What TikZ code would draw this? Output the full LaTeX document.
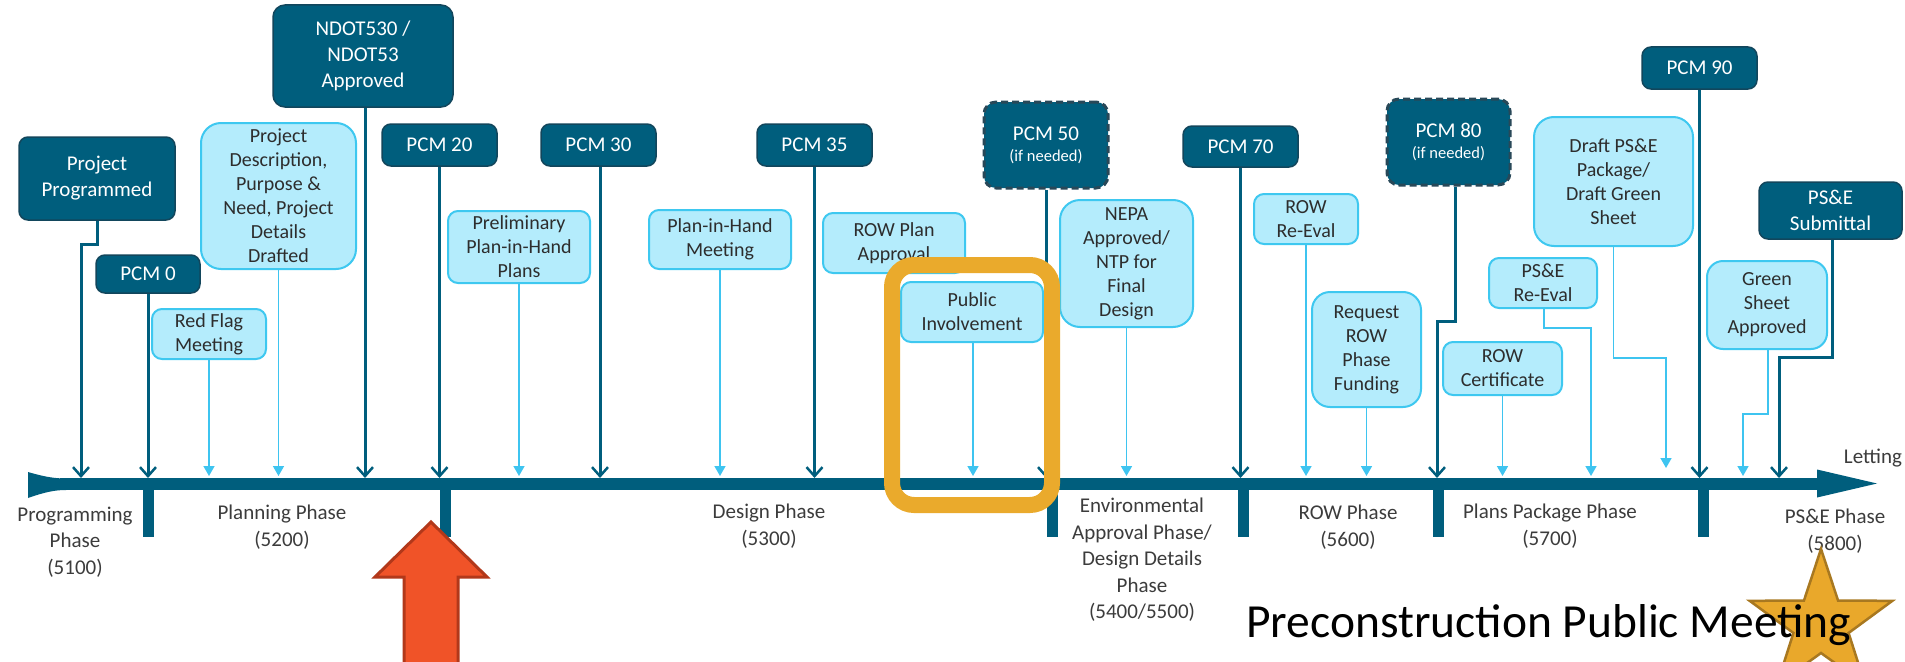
\documentclass[tikz,border=0pt]{standalone}
\usepackage{fontspec}
\setmainfont{Carlito}
\usetikzlibrary{arrows.meta,shapes.geometric}
\definecolor{tealF}{RGB}{0,94,125}
\definecolor{tealE}{RGB}{18,70,92}
\definecolor{dashE}{RGB}{40,72,88}
\definecolor{lightF}{RGB}{180,236,252}
\definecolor{lightE}{RGB}{62,200,240}
\definecolor{lightL}{RGB}{62,196,240}
\definecolor{txtG}{RGB}{45,45,45}
\definecolor{phaseG}{RGB}{60,60,60}
\definecolor{orangeF}{RGB}{234,170,44}
\definecolor{redF}{RGB}{240,83,40}
\definecolor{redE}{RGB}{178,56,26}
\definecolor{starF}{RGB}{233,168,43}
\definecolor{starE}{RGB}{168,120,32}
\begin{document}
\begin{tikzpicture}[x=1pt,y=-1pt,
  dbox/.style={draw=tealE, line width=1.5pt, fill=tealF, rounded corners=9pt, text=white,
    font=\fontsize{21}{26}\selectfont, align=center, inner sep=0pt},
  dashbox/.style={dbox, draw=dashE, line width=3pt, dash pattern=on 7pt off 4pt, rounded corners=12pt},
  lbox/.style={draw=lightE, line width=2pt, fill=lightF, rounded corners=10pt, text=txtG,
    font=\fontsize{20}{24}\selectfont, align=center, inner sep=0pt},
  dline/.style={draw=tealF, line width=3pt, -{Straight Barb[length=9pt,width=16pt,line width=2.5pt]}},
  lline/.style={draw=lightL, line width=1.5pt, -{Triangle[length=10pt,width=11pt]}},
  phase/.style={text=phaseG, font=\fontsize{21}{26.5}\selectfont, align=center, inner sep=0pt},
  tick/.style={fill=tealF},
  needed/.style={font=\fontsize{16.5}{19}\selectfont},
]
\useasboundingbox (0,0) rectangle (1905,661);
\clip (0,0) rectangle (1905,661);
\fill[white] (0,0) rectangle (1905,661);

% timeline
\coordinate (barL) at (60,484);
\coordinate (barR) at (1820,484);
\coordinate (bartop) at (0,478);
\coordinate (lbartop) at (0,476);
\draw[tealF, line width=12pt] (barL) -- (barR);
\fill[tealF] (28,472) .. controls (45,477) and (55,478.5) .. (66,478.5) -- (66,490)
  .. controls (55,490) and (45,492) .. (28,498) -- cycle;
\fill[tealF] (1817,469.5) -- (1877,483.5) -- (1817,497.5) -- cycle;
\foreach \x in {148,445,1052,1243,1438,1703}{
  \fill[tick] (\x-5.5,484) rectangle (\x+5.5,537);
}

% dark boxes
\node[dbox, minimum width=156pt, minimum height=83pt] (prog) at (97,178.5) {Project\\Programmed};
\node[dbox, minimum width=180pt, minimum height=102pt, rounded corners=12pt] (ndot) at (363,56) {NDOT530 /\\NDOT53\\Approved};
\node[dbox, minimum width=104pt, minimum height=38pt] (pcm0) at (148,274) {PCM 0};
\node[dbox, minimum width=115pt, minimum height=42pt] (pcm20) at (439.5,145) {PCM 20};
\node[dbox, minimum width=115pt, minimum height=42pt] (pcm30) at (598.5,145) {PCM 30};
\node[dbox, minimum width=115pt, minimum height=42pt] (pcm35) at (814.5,145) {PCM 35};
\node[dashbox, minimum width=124pt, minimum height=86pt] (pcm50) at (1046,145) {PCM 50\\[-5pt]{\fontsize{16.5}{19}\selectfont (if needed)}};
\node[dbox, minimum width=115pt, minimum height=41pt] (pcm70) at (1240.5,146.5) {PCM 70};
\node[dashbox, minimum width=123pt, minimum height=86pt] (pcm80) at (1448.5,142) {PCM 80\\[-5pt]{\fontsize{16.5}{19}\selectfont (if needed)}};
\node[dbox, minimum width=115pt, minimum height=42pt] (pcm90) at (1699.5,68) {PCM 90};
\node[dbox, minimum width=143pt, minimum height=57pt] (pse) at (1830.5,210.5) {PS\&E\\Submittal};

% light boxes
\node[lbox, minimum width=155pt, minimum height=146pt, rounded corners=20pt] (desc) at (278.5,196) {Project\\Description,\\Purpose \&\\Need, Project\\Details\\Drafted};
\node[lbox, minimum width=114pt, minimum height=50pt] (red) at (209,334) {Red Flag\\Meeting};
\node[lbox, minimum width=142pt, minimum height=72pt] (prelim) at (519,247) {Preliminary\\Plan-in-Hand\\Plans};
\node[lbox, minimum width=142pt, minimum height=59pt] (pih) at (720,239.5) {Plan-in-Hand\\Meeting};
\node[lbox, minimum width=142pt, minimum height=60pt] (rowplan) at (894,243) {ROW Plan\\Approval};
\node[lbox, minimum width=142pt, minimum height=60pt] (pub) at (972,312) {Public\\Involvement};
\node[lbox, minimum width=133pt, minimum height=127pt, rounded corners=20pt] (nepa) at (1126.5,263.5) {NEPA\\Approved/\\NTP for\\Final\\Design};
\node[lbox, minimum width=104pt, minimum height=50pt] (rowre) at (1306,219) {ROW\\Re-Eval};
\node[lbox, minimum width=109pt, minimum height=115pt, rounded corners=18pt] (req) at (1366.5,349.5) {Request\\ROW\\Phase\\Funding};
\node[lbox, minimum width=159pt, minimum height=129pt, rounded corners=20pt] (draft) at (1613.5,181.5) {Draft PS\&E\\Package/\\Draft Green\\Sheet};
\node[lbox, minimum width=108pt, minimum height=50pt] (psre) at (1543,283) {PS\&E\\Re-Eval};
\node[lbox, minimum width=119pt, minimum height=53pt] (rowcert) at (1502.5,368.5) {ROW\\Certificate};
\node[lbox, minimum width=120pt, minimum height=88pt, rounded corners=16pt] (green) at (1767,305) {Green\\Sheet\\Approved};

% end coordinates on the bar
\coordinate (tprog) at (81,478);
\coordinate (t80) at (1437,478);
\coordinate (tpse) at (1779,478);
\coordinate (tpsre) at (1591,476);
\coordinate (tdraft) at (1666,468);
\coordinate (tgreen) at (1743,476);

% dark connectors
\draw[dline] (prog.south) -- ++(0,24) -| (tprog);
\draw[dline] (pcm0.south) -- (pcm0.south |- bartop);
\draw[dline] ([xshift=2pt]ndot.south) -- ([xshift=2pt]ndot.south |- bartop);
\draw[dline] (pcm20.south) -- (pcm20.south |- bartop);
\draw[dline] ([xshift=1.5pt]pcm30.south) -- ([xshift=1.5pt]pcm30.south |- bartop);
\draw[dline] (pcm35.south) -- (pcm35.south |- bartop);
\draw[dline] (pcm50.south) -- (pcm50.south |- bartop);
\draw[dline] (pcm70.south) -- (pcm70.south |- bartop);
\draw[dline] ([xshift=7pt]pcm80.south) -- ++(0,135) -| (t80);
\draw[dline] (pcm90.south) -- (pcm90.south |- bartop);
\draw[dline] ([xshift=1.5pt]pse.south) -- ++(0,118) -| (tpse);

% light connectors
\draw[lline] (red.south) -- (red.south |- lbartop);
\draw[lline] (desc.south) -- (desc.south |- lbartop);
\draw[lline] (prelim.south) -- (prelim.south |- lbartop);
\draw[lline] (pih.south) -- (pih.south |- lbartop);
\draw[lline] ([xshift=1pt]pub.south) -- ([xshift=1pt]pub.south |- lbartop);
\draw[lline] (nepa.south) -- (nepa.south |- lbartop);
\draw[lline] (rowre.south) -- (rowre.south |- lbartop);
\draw[lline] (req.south) -- (req.south |- lbartop);
\draw[lline] (rowcert.south) -- (rowcert.south |- lbartop);
\draw[lline] ([xshift=1pt]psre.south) -- ++(0,19) -| (tpsre);
\draw[lline] (draft.south) -- ++(0,111) -| (tdraft);
\draw[lline] ([xshift=1pt]green.south) -- ++(0,64) -| (tgreen);

% phase labels
\node[phase] (ph1) at (75,542) {Programming\\Phase\\(5100)};
\node[phase] (ph2) at (282,527) {Planning Phase\\(5200)};
\node[phase] (ph3) at (769,526) {Design Phase\\(5300)};
\node[phase] (ph4) at (1142,560) {Environmental\\Approval Phase/\\Design Details\\Phase\\(5400/5500)};
\node[phase] (ph5) at (1348,527) {ROW Phase\\(5600)};
\node[phase] (ph6) at (1550,526) {Plans Package Phase\\(5700)};
\node[phase] (ph7) at (1835,531) {PS\&E Phase\\(5800)};
\node[phase] (let) at (1873,458) {Letting};

% highlight frame
\draw[orangeF, line width=16pt, rounded corners=22pt] (892,265) rectangle (1052,505);

% red arrow
\draw[draw=redE, line width=3pt, fill=redF, line join=miter]
  (431,522) -- (487,577) -- (458,577) -- (458,670) -- (404,670) -- (404,577) -- (375,577) -- cycle;

% star
\draw[shift={(1821,624)}, fill=starF, draw=starE, line width=2.5pt, line join=miter]
  (270:75) -- (306:29) -- (342:75) -- (18:29) -- (54:75) -- (90:29) -- (126:75)
  -- (162:29) -- (198:75) -- (234:29) -- cycle;

% bottom text
\node[anchor=base west, inner sep=0pt, font=\fontsize{47.5}{56}\selectfont] (pre) at (1246,637) {Preconstruction Public Meeting};
\end{tikzpicture}
\end{document}
